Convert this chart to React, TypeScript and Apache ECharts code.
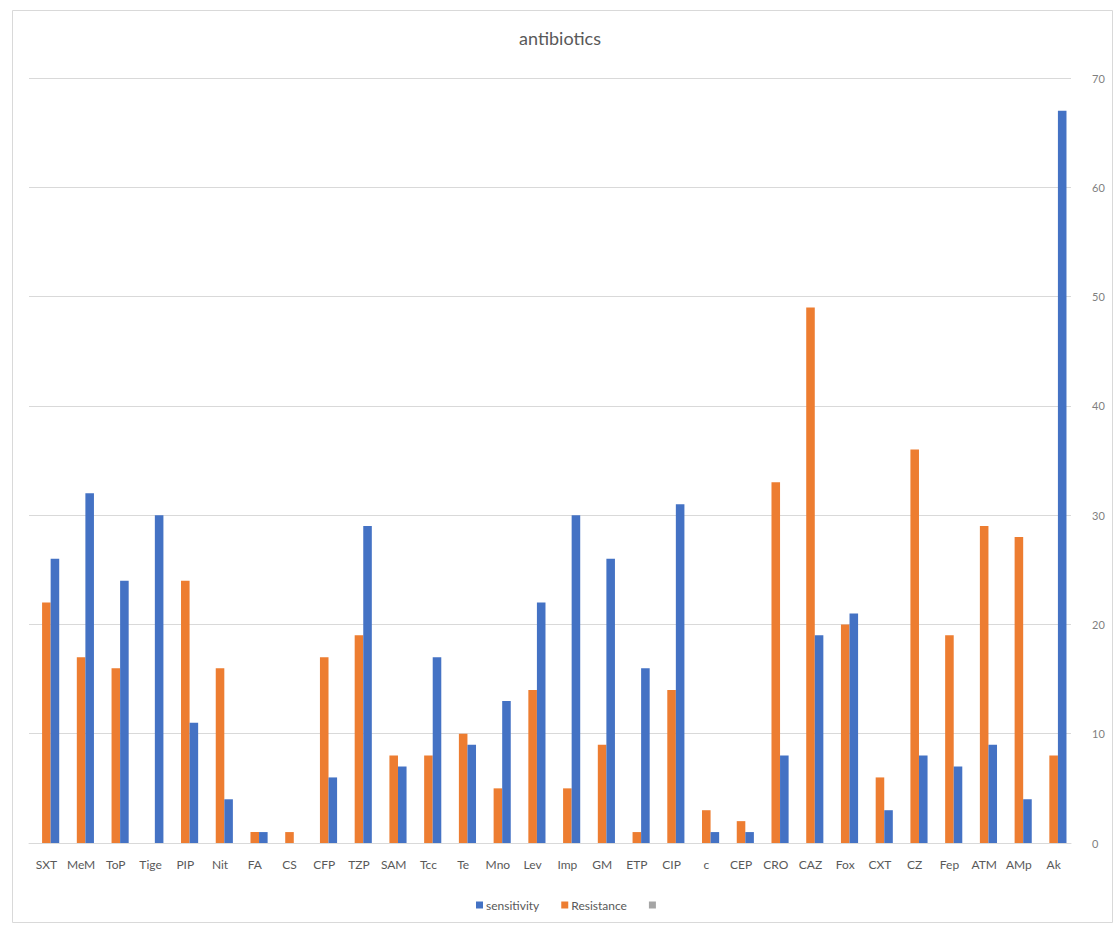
import React, { useEffect, useRef } from "react";
import * as echarts from "echarts";

// Antibiotic panel, left to right along the category axis
const antibiotics = [
  "SXT", "MeM", "ToP", "Tige", "PIP", "Nit", "FA", "CS", "CFP", "TZP",
  "SAM", "Tcc", "Te", "Mno", "Lev", "Imp", "GM", "ETP", "CIP", "c",
  "CEP", "CRO", "CAZ", "Fox", "CXT", "CZ", "Fep", "ATM", "AMp", "Ak",
];

const sensitivity = [
  26, 32, 24, 30, 11, 4, 1, 0, 6, 29,
  7, 17, 9, 13, 22, 30, 26, 16, 31, 1,
  1, 8, 19, 21, 3, 8, 7, 9, 4, 67,
];

const resistance = [
  22, 17, 16, 0, 24, 16, 1, 1, 17, 19,
  8, 8, 10, 5, 14, 5, 9, 1, 14, 3,
  2, 33, 49, 20, 6, 36, 19, 29, 28, 8,
];

// Third (unnamed) series of the workbook holds no values
const thirdSeries: (number | null)[] = antibiotics.map(() => null);

const valueTicks = { min: 0, max: 70, interval: 10 };

const FONT = "Lato, 'Open Sans', 'DejaVu Sans', sans-serif";

export default function App() {
  const ref = useRef<HTMLDivElement>(null);

  useEffect(() => {
    if (!ref.current) return;
    const chart = echarts.init(ref.current, undefined, { renderer: "svg" });
    chart.setOption({
      animation: false,
      backgroundColor: "#ffffff",
      textStyle: { fontFamily: FONT },
      title: {
        text: "antibiotics",
        left: "center",
        top: 24,
        textStyle: { color: "#595959", fontSize: 18, fontWeight: "normal", fontFamily: FONT },
      },
      legend: {
        data: ["sensitivity", "Resistance", " "],
        left: 471,
        top: 894,
        icon: "rect",
        itemWidth: 7,
        itemHeight: 7,
        itemGap: 22,
        textStyle: { color: "#595959", fontSize: 12, fontFamily: FONT, padding: [0, 0, 0, -2] },
      },
      grid: { left: 29, right: 49, top: 78, bottom: 86, containLabel: false },
      xAxis: {
        type: "category",
        data: antibiotics,
        axisLine: { show: true, lineStyle: { color: "#d9d9d9" } },
        axisTick: { show: false },
        axisLabel: { color: "#595959", fontSize: 12, margin: 15, interval: 0, fontFamily: FONT },
      },
      yAxis: {
        type: "value",
        position: "right",
        min: valueTicks.min,
        max: valueTicks.max,
        interval: valueTicks.interval,
        axisLine: { show: false },
        axisTick: { show: false },
        axisLabel: { color: "#7f7f7f", fontSize: 11, margin: 21, fontFamily: FONT },
        splitLine: { show: true, lineStyle: { color: "#d9d9d9", width: 1 } },
      },
      series: [
        {
          name: " ",
          type: "bar",
          data: thirdSeries,
          itemStyle: { color: "#a5a5a5" },
          barGap: "0%",
          barCategoryGap: "26%",
        },
        {
          name: "Resistance",
          type: "bar",
          data: resistance,
          itemStyle: { color: "#ed7d31" },
          barGap: "0%",
          barCategoryGap: "26%",
        },
        {
          name: "sensitivity",
          type: "bar",
          data: sensitivity,
          itemStyle: { color: "#4472c4" },
          barGap: "0%",
          barCategoryGap: "26%",
        },
      ],
      graphic: [
        {
          type: "rect",
          shape: { x: 12.5, y: 10.5, width: 1100, height: 912 },
          style: { fill: "none", stroke: "#d9d9d9", lineWidth: 1 },
          silent: true,
        },
      ],
    });
    return () => chart.dispose();
  }, []);

  return (
    <div
      ref={ref}
      style={{ position: "fixed", left: 0, top: 0, width: 1120, height: 929 }}
    />
  );
}
